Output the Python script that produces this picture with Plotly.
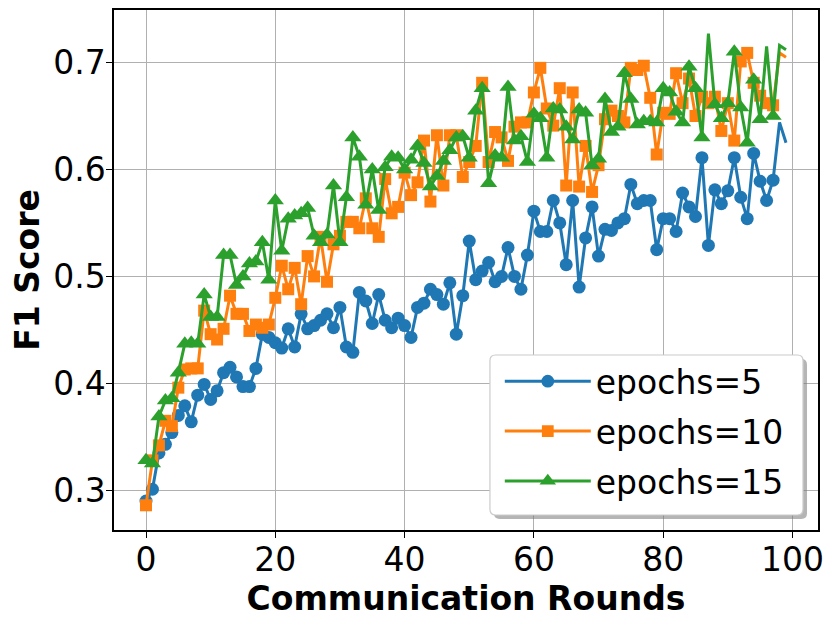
import plotly.graph_objects as go

rounds = list(range(100))

f1_epochs5 = [
    0.290, 0.301, 0.335, 0.343, 0.354, 0.370, 0.379, 0.364, 0.389, 0.399,
    0.385, 0.393, 0.410, 0.415, 0.406, 0.397, 0.397, 0.414, 0.446, 0.443,
    0.438, 0.433, 0.451, 0.434, 0.465, 0.451, 0.454, 0.459, 0.465, 0.452,
    0.471, 0.434, 0.429, 0.485, 0.477, 0.456, 0.483, 0.459, 0.452, 0.461,
    0.454, 0.443, 0.471, 0.475, 0.488, 0.483, 0.474, 0.494, 0.446, 0.482,
    0.533, 0.497, 0.505, 0.513, 0.495, 0.500, 0.527, 0.500, 0.488, 0.520,
    0.561, 0.542, 0.542, 0.571, 0.550, 0.511, 0.571, 0.490, 0.536, 0.565,
    0.519, 0.544, 0.543, 0.550, 0.554, 0.586, 0.568, 0.571, 0.571, 0.525,
    0.554, 0.554, 0.542, 0.578, 0.565, 0.556, 0.611, 0.529, 0.581, 0.568,
    0.580, 0.611, 0.574, 0.554, 0.615, 0.589, 0.571, 0.590, 0.644, 0.625,
]

f1_epochs10 = [
    0.286, 0.328, 0.342, 0.365, 0.360, 0.396, 0.413, 0.414, 0.414, 0.468,
    0.446, 0.441, 0.451, 0.482, 0.465, 0.465, 0.449, 0.455, 0.452, 0.455,
    0.480, 0.510, 0.488, 0.508, 0.474, 0.519, 0.500, 0.537, 0.495, 0.530,
    0.538, 0.551, 0.551, 0.545, 0.573, 0.545, 0.537, 0.591, 0.559, 0.565,
    0.597, 0.576, 0.588, 0.627, 0.570, 0.632, 0.585, 0.632, 0.632, 0.593,
    0.607, 0.622, 0.681, 0.607, 0.635, 0.630, 0.608, 0.640, 0.644, 0.644,
    0.672, 0.695, 0.657, 0.641, 0.676, 0.585, 0.672, 0.584, 0.622, 0.579,
    0.604, 0.647, 0.655, 0.650, 0.644, 0.695, 0.693, 0.697, 0.667, 0.614,
    0.653, 0.652, 0.690, 0.662, 0.685, 0.650, 0.668, 0.662, 0.668, 0.636,
    0.662, 0.627, 0.701, 0.709, 0.681, 0.669, 0.662, 0.660, 0.709, 0.705,
]

f1_epochs15 = [
    0.328, 0.325, 0.369, 0.384, 0.386, 0.410, 0.437, 0.438, 0.437, 0.483,
    0.462, 0.462, 0.520, 0.520, 0.492, 0.500, 0.512, 0.514, 0.532, 0.497,
    0.571, 0.524, 0.554, 0.557, 0.559, 0.564, 0.538, 0.532, 0.539, 0.585,
    0.532, 0.574, 0.630, 0.612, 0.567, 0.600, 0.562, 0.602, 0.612, 0.611,
    0.600, 0.609, 0.622, 0.606, 0.584, 0.594, 0.608, 0.618, 0.630, 0.631,
    0.611, 0.655, 0.676, 0.587, 0.613, 0.611, 0.677, 0.627, 0.631, 0.607,
    0.652, 0.648, 0.611, 0.657, 0.656, 0.640, 0.628, 0.656, 0.653, 0.604,
    0.610, 0.666, 0.635, 0.640, 0.690, 0.666, 0.642, 0.645, 0.645, 0.644,
    0.676, 0.672, 0.654, 0.644, 0.696, 0.676, 0.630, 0.727, 0.661, 0.648,
    0.662, 0.710, 0.658, 0.625, 0.684, 0.647, 0.715, 0.650, 0.716, 0.712,
]

# points drawn without a marker in the original
no_marker = {
    "epochs=5": [98, 99],
    "epochs=10": [98, 99],
    "epochs=15": [87, 96, 98, 99],
}

series = [
    ("epochs=5", f1_epochs5, "#1f77b4", "circle", 13),
    ("epochs=10", f1_epochs10, "#ff7f0e", "square", 12),
    ("epochs=15", f1_epochs15, "#2ca02c", "triangle-up", 15),
]

FONT = "DejaVu Sans"
FS = 33

fig = go.Figure()
for name, vals, color, symbol, size in series:
    sizes = [0 if i in no_marker[name] else size for i in rounds]
    fig.add_trace(go.Scatter(
        x=rounds, y=vals, name=name, legendgroup=name, mode="lines+markers",
        line=dict(color=color, width=3),
        marker=dict(symbol=symbol, size=sizes, color=color, opacity=1,
                    line=dict(width=0)),
    ))

axis_common = dict(
    showline=True, linecolor="black", linewidth=1.5, mirror=True,
    ticks="outside", ticklen=6, tickwidth=1.3, tickcolor="black",
    showgrid=True, gridcolor="#b0b0b0", gridwidth=1.3,
    zeroline=False, automargin=False, ticklabelstandoff=-6,
    tickfont=dict(family=FONT, size=FS, color="black"),
)

# legend frame with a drop shadow (rounded corners like matplotlib's fancybox)
def rounded(x0, y0, x1, y1, rx=0.008, ry=0.011):
    return (f"M{x0+rx},{y0} L{x1-rx},{y0} Q{x1},{y0} {x1},{y0+ry} "
            f"L{x1},{y1-ry} Q{x1},{y1} {x1-rx},{y1} L{x0+rx},{y1} "
            f"Q{x0},{y1} {x0},{y1-ry} L{x0},{y0+ry} Q{x0},{y0} {x0+rx},{y0} Z")

shapes = [
    dict(type="path", xref="paper", yref="paper", layer="above",
         path=rounded(0.5398, 0.0212, 0.9844, 0.3288),
         fillcolor="rgba(120,120,120,0.55)", line=dict(width=0)),
    dict(type="path", xref="paper", yref="paper", layer="above",
         path=rounded(0.534, 0.0288, 0.9787, 0.3365),
         fillcolor="white", line=dict(color="#cccccc", width=1.2)),
]

fig.update_layout(
    width=831, height=617,
    margin=dict(l=106, r=21, t=2, b=95),
    paper_bgcolor="white", plot_bgcolor="white",
    font=dict(family=FONT, color="black"),
    xaxis=dict(axis_common, range=[-4.95, 103.95], tickvals=[0, 20, 40, 60, 80, 100],
               title=dict(text="<b>Communication Rounds</b>", font=dict(size=FS), standoff=4)),
    yaxis=dict(axis_common, range=[0.2629, 0.7491], tickvals=[0.3, 0.4, 0.5, 0.6, 0.7],
               tickformat=".1f",
               title=dict(text="<b>F1 Score</b>", font=dict(size=FS), standoff=6)),
    shapes=shapes,
    legend=dict(
        x=0.548, y=0.340, xanchor="left", yanchor="top",
        font=dict(family=FONT, size=FS, color="black"),
        bgcolor="rgba(0,0,0,0)", borderwidth=0,
        itemwidth=86, tracegroupgap=4,
    ),
    showlegend=True,
)

fig.write_html("out.html")
